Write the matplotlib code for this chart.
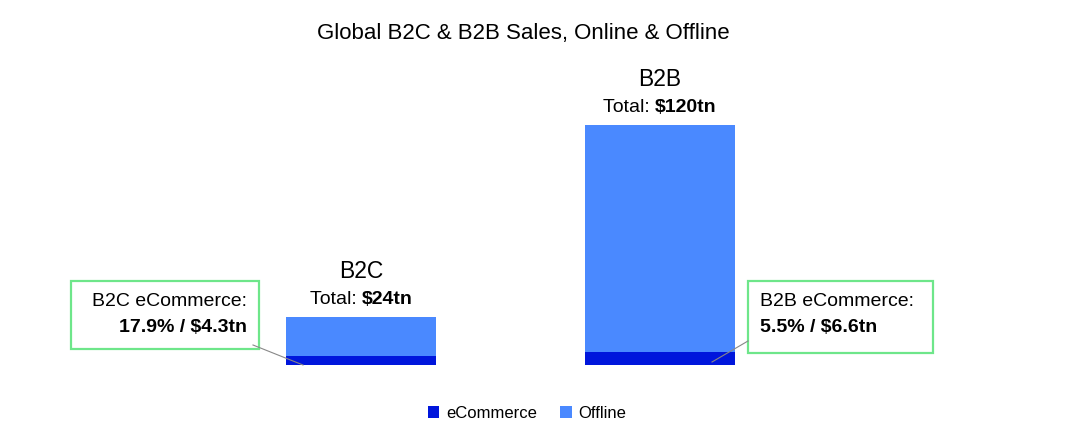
import matplotlib.pyplot as plt
from matplotlib.patches import Rectangle
from matplotlib.lines import Line2D

plt.rcParams['font.family'] = ['Liberation Sans', 'DejaVu Sans']

categories = ['B2C', 'B2B']
ecommerce = [4.3, 6.6]
totals = [24, 120]
offline = [t - e for t, e in zip(totals, ecommerce)]
shares = ['17.9%', '5.5%']

c_ecom = '#0016dc'
c_off = '#4a89ff'
c_box = '#6ee68a'

W, H = 1088, 447
fig = plt.figure(figsize=(W / 100, H / 100), dpi=100)
ax = fig.add_axes([0, 0, 1, 1])

# 1 x unit = 299 px, 1 y unit = 2 px, baseline at y=365 px
x = [0, 1]
ax.bar(x, ecommerce, width=0.5, color=c_ecom, label='eCommerce')
ax.bar(x, offline, width=0.5, bottom=ecommerce, color=c_off, label='Offline')
ax.set_xlim(-361 / 299, (W - 361) / 299)
ax.set_ylim(-(H - 365) / 2, 365 / 2)
ax.axis('off')


def fx(px):
    return px / W


def fy(py):
    return 1 - py / H


fig.text(fx(523), fy(33), 'Global B2C & B2B Sales, Online & Offline',
         ha='center', va='center', fontsize=16)

renderer = fig.canvas.get_renderer()
for i, cat in enumerate(categories):
    top = totals[i] + 9
    ax.text(x[i], totals[i] + 23, cat, ha='center', va='center', fontsize=16.5)
    # "Total: " normal + bold amount, centred together
    t1 = ax.text(x[i], top, 'Total: ', ha='left', va='center', fontsize=14)
    t2 = ax.text(x[i], top, '$' + str(totals[i]) + 'tn', ha='left', va='center',
                 fontsize=14, fontweight='bold')
    w1 = t1.get_window_extent(renderer).width
    w2 = t2.get_window_extent(renderer).width
    xc_px = ax.transData.transform((x[i], top))[0]
    x1 = xc_px - (w1 + w2) / 2
    t1.set_x(ax.transData.inverted().transform((x1, 0))[0])
    t2.set_x(ax.transData.inverted().transform((x1 + w1, 0))[0])

# callout boxes
fig.add_artist(Rectangle((fx(71), fy(349)), fx(259) - fx(71), fy(281) - fy(349),
                         transform=fig.transFigure, fill=False, ec=c_box, lw=1.6))
fig.add_artist(Rectangle((fx(748), fy(353)), fx(933) - fx(748), fy(281) - fy(353),
                         transform=fig.transFigure, fill=False, ec=c_box, lw=1.6))

fig.text(fx(247), fy(301), 'B2C eCommerce:', ha='right', va='center', fontsize=14)
fig.text(fx(247), fy(328), shares[0] + ' / $' + str(ecommerce[0]) + 'tn',
         ha='right', va='center', fontsize=14, fontweight='bold')
fig.text(fx(760), fy(301), 'B2B eCommerce:', ha='left', va='center', fontsize=14)
fig.text(fx(760), fy(328), shares[1] + ' / $' + str(ecommerce[1]) + 'tn',
         ha='left', va='center', fontsize=14, fontweight='bold')

fig.add_artist(Line2D([fx(253), fx(303)], [fy(345), fy(365)],
                      transform=fig.transFigure, color='#888888', lw=0.8))
fig.add_artist(Line2D([fx(748), fx(712)], [fy(341), fy(362)],
                      transform=fig.transFigure, color='#888888', lw=0.8))

fig.legend(loc='center', bbox_to_anchor=(fx(527), fy(413)), ncol=2, frameon=False,
           fontsize=12, handlelength=0.7, handleheight=0.7, handletextpad=0.4,
           columnspacing=1.4)

fig.savefig('out.png', dpi=100)
